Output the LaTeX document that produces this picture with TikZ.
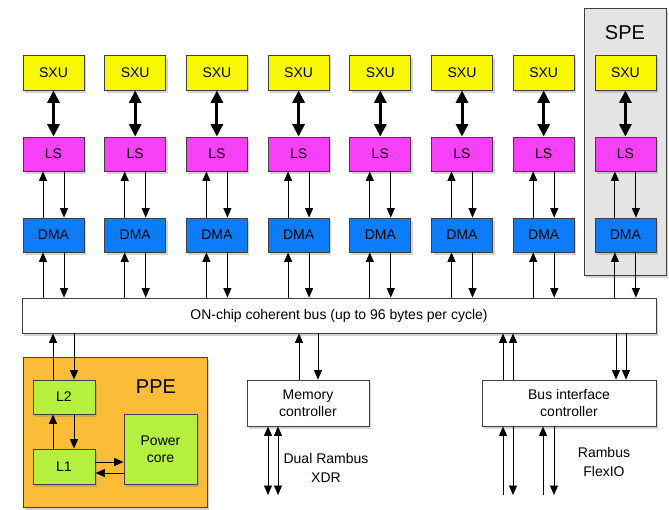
\documentclass[tikz,border=0pt]{standalone}
\usepackage{fontspec}
\setmainfont{Liberation Sans}
\usetikzlibrary{arrows.meta,shadows,calc}
\definecolor{cyel}{RGB}{248,248,0}
\definecolor{cmag}{RGB}{248,64,248}
\definecolor{cblue}{RGB}{12,124,250}
\definecolor{corange}{RGB}{251,189,56}
\definecolor{cgreen}{RGB}{182,240,62}
\definecolor{cgray}{RGB}{228,228,228}
\begin{document}
\begin{tikzpicture}[x=1pt,y=-1pt,
  shad/.style={drop shadow={shadow xshift=2pt,shadow yshift=-2.5pt,opacity=0.35}},
  box/.style={draw=black!75, line width=0.8pt, inner sep=0pt, align=center,
    font=\fontsize{14}{16.5}\selectfont, shad},
  sxubox/.style={box, fill=cyel, minimum width=61pt, minimum height=35pt},
  lsbox/.style={box, fill=cmag, minimum width=61pt, minimum height=34pt},
  dmabox/.style={box, fill=cblue, minimum width=61pt, minimum height=34pt},
  gbox/.style={box, fill=cgreen},
  wbox/.style={box, fill=white},
  big/.style={font=\fontsize{20}{23}\selectfont},
  arr/.style={line width=0.9pt, -{Triangle[length=9.5pt,width=8pt]}},
  darr/.style={line width=0.9pt, {Triangle[length=9.5pt,width=8pt]}-{Triangle[length=9.5pt,width=8pt]}},
  dbl/.style={line width=3pt, {Triangle[length=12.5pt,width=12pt]}-{Triangle[length=12.5pt,width=12pt]}},
  lbl/.style={font=\fontsize{14}{19}\selectfont, align=center, inner sep=0pt}]
\useasboundingbox (0,0) rectangle (669,509);

% SPE frame
\node[draw=black!75, line width=0.8pt, fill=cgray, shad, minimum width=82pt, minimum height=267pt, inner sep=0pt] (spe) at (625,141.5) {};
\node[big, inner sep=0pt] (spelbl) at (625,33) {SPE};

% bus
\node[wbox, minimum width=634pt, minimum height=35pt] (bus) at (339,315.5) {ON-chip coherent bus (up to 96 bytes per cycle)};

% columns
\foreach \i in {0,...,7}{
  \pgfmathsetmacro\cx{53.5+81.7*\i}
  \node[sxubox] (sxu\i) at (\cx,72.5) {SXU};
  \node[lsbox] (ls\i) at (\cx,154) {LS};
  \node[dmabox] (dma\i) at (\cx,235) {DMA};
  \draw[dbl] (sxu\i.south) -- (ls\i.north);
  \draw[arr] ([xshift=-10.5pt]dma\i.north) -- ([xshift=-10.5pt]ls\i.south);
  \draw[arr] ([xshift=10.5pt]ls\i.south) -- ([xshift=10.5pt]dma\i.north);
  \draw[arr] ([xshift=-10.5pt]dma\i.south |- bus.north) -- ([xshift=-10.5pt]dma\i.south);
  \draw[arr] ([xshift=10.5pt]dma\i.south) -- ([xshift=10.5pt]dma\i.south |- bus.north);
}

% PPE
\node[draw=black!75, line width=0.8pt, fill=corange, shad, minimum width=184pt, minimum height=150pt, inner sep=0pt] (ppe) at (115,432) {};
\node[big, inner sep=0pt] (ppelbl) at (156,387) {PPE};
\node[gbox, minimum width=62pt, minimum height=34pt] (l2) at (64,397) {L2};
\node[gbox, minimum width=62pt, minimum height=35pt] (l1) at (64,466.5) {L1};
\node[gbox, minimum width=73pt, minimum height=70pt] (pc) at (160.5,449) {Power\\core};

\draw[arr] ([xshift=-11pt]l2.north) -- ([xshift=-11pt]l2.north |- bus.south);
\draw[arr] ([xshift=10pt]l2.north |- bus.south) -- ([xshift=10pt]l2.north);
\draw[arr] ([xshift=-11pt]l1.north) -- ([xshift=-11pt]l2.south);
\draw[arr] ([xshift=10pt]l2.south) -- ([xshift=10pt]l1.north);
\draw[arr] ([yshift=4.5pt]l1.east) -- ([yshift=4.5pt]l1.east -| pc.west);
\draw[arr] ([yshift=-6.5pt]l1.east -| pc.west) -- ([yshift=-6.5pt]l1.east);

% Memory controller
\node[wbox, minimum width=122pt, minimum height=46pt] (mem) at (308,403) {Memory\\controller};
\draw[arr] ([xshift=-9pt]mem.north) -- ([xshift=-9pt]mem.north |- bus.south);
\draw[arr] ([xshift=10pt]mem.north |- bus.south) -- ([xshift=10pt]mem.north);
\coordinate (xa) at (268,495);
\coordinate (xb) at (278,495);
\draw[darr] (mem.south -| xa) -- (xa);
\draw[darr] (mem.south -| xb) -- (xb);
\node[lbl] (xdr) at (326,468) {Dual Rambus\\XDR};

% Bus interface controller
\node[wbox, minimum width=174pt, minimum height=46pt] (bic) at (569,403) {Bus interface\\controller};
\coordinate (ta) at (503,380);
\coordinate (tb) at (513,380);
\coordinate (tc) at (616,380);
\coordinate (td) at (626,380);
\draw[arr] (bic.north -| ta) -- (bus.south -| ta);
\draw[arr] (bic.north -| tb) -- (bus.south -| tb);
\draw[arr] (bus.south -| tc) -- (bic.north -| tc);
\draw[arr] (bus.south -| td) -- (bic.north -| td);
\coordinate (fa) at (503,495);
\coordinate (fb) at (513,495);
\coordinate (fc) at (543,495);
\coordinate (fd) at (554,495);
\draw[arr] (fa) -- (bic.south -| fa);
\draw[arr] (bic.south -| fb) -- (fb);
\draw[arr] (fc) -- (bic.south -| fc);
\draw[arr] (bic.south -| fd) -- (fd);
\node[lbl] (flex) at (604,462) {Rambus\\FlexIO};
\end{tikzpicture}
\end{document}
